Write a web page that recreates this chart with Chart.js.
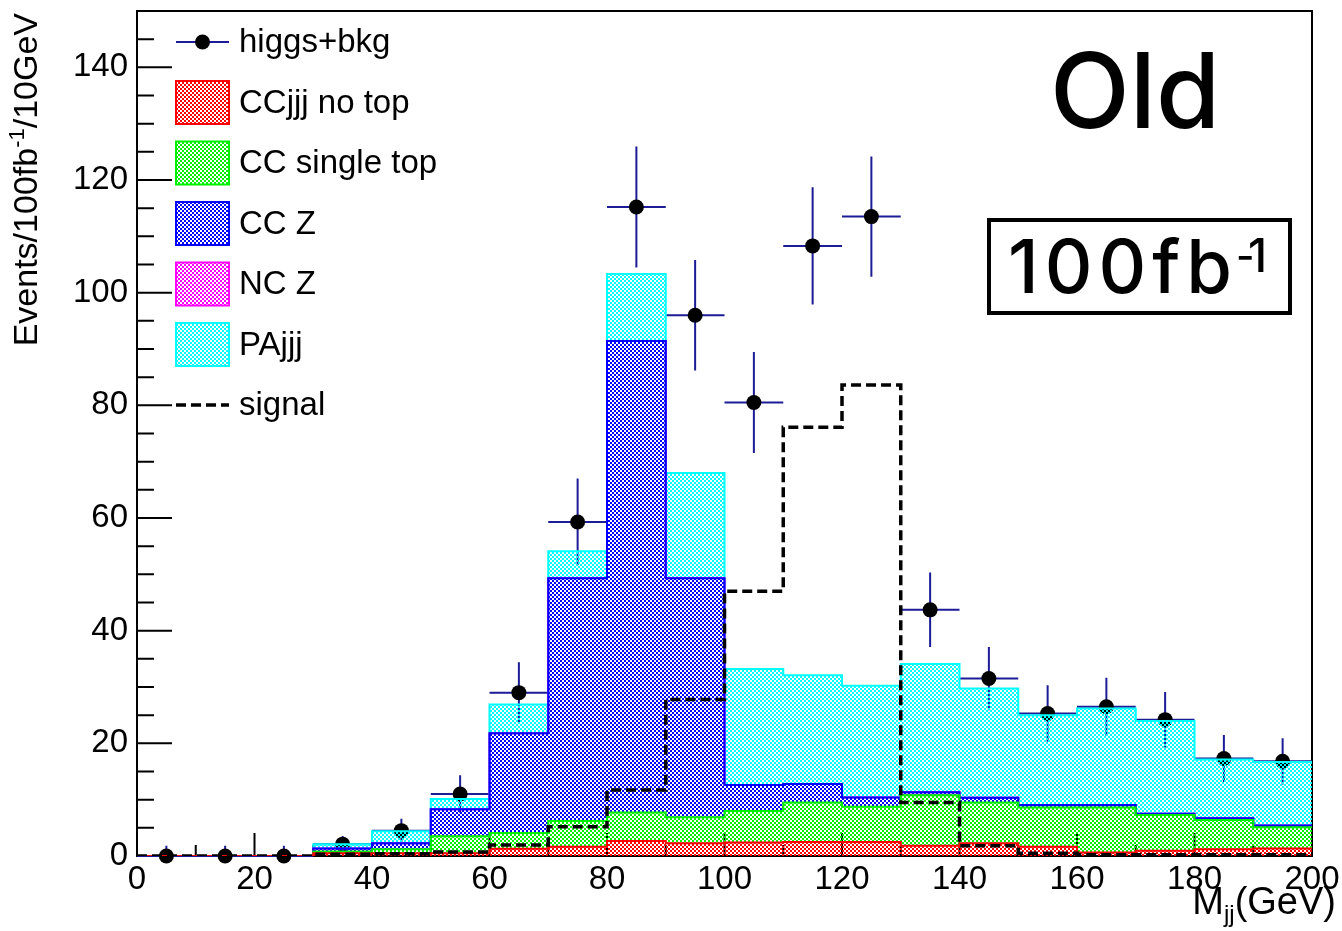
<!DOCTYPE html>
<html>
<head>
<meta charset="utf-8">
<script src="https://cdn.jsdelivr.net/npm/chart.js@4.4.1/dist/chart.umd.min.js"></script>
<style>
  html, body { margin: 0; padding: 0; background: #fff; }
  #wrap { width: 1342px; height: 931px; }
</style>
</head>
<body>
<div id="wrap"><canvas id="mjj" width="1342" height="931"></canvas></div>
<script>
// M_jj in 10 GeV bins from 0 to 200 GeV
const binEdges = [0, 10, 20, 30, 40, 50, 60, 70, 80, 90, 100, 110, 120, 130, 140, 150, 160, 170, 180, 190, 200];
const binCenters = [5, 15, 25, 35, 45, 55, 65, 75, 85, 95, 105, 115, 125, 135, 145, 155, 165, 175, 185, 195];

// background components (events / 100 fb^-1 / 10 GeV), stacked bottom to top
const ccjjjNoTop  = [0, 0, 0, 0.5, 0.5, 0.5, 1.3, 1.65, 2.65, 2.25, 2.4, 2.5, 2.5, 1.8, 2.25, 1.65, 0.6, 0.95, 1.2, 1.35];
const ccSingleTop = [0, 0, 0, 0.3, 0.7, 3.0, 2.8, 4.55, 5.05, 4.65, 5.6, 7.0, 6.25, 9.0, 7.25, 6.95, 8.0, 6.35, 5.2, 3.75];
const ccZ         = [0, 0, 0, 0.55, 1.05, 4.8, 17.7, 43.1, 83.7, 42.4, 4.6, 3.3, 1.65, 0.5, 0.85, 0.45, 0.45, 0.2, 0.3, 0.3];
const ncZ         = [0, 0, 0, 0, 0, 0, 0, 0, 0, 0, 0, 0, 0, 0, 0, 0, 0, 0, 0, 0];
const paJjj       = [0, 0, 0, 0.75, 2.15, 1.8, 5.1, 4.8, 11.9, 18.7, 20.6, 19.3, 19.8, 22.8, 19.4, 15.95, 17.15, 16.45, 10.45, 11.3];

// higgs signal alone and pseudo-data (signal + background)
const signal    = [0, 0, 0, 0.3, 0.4, 0.7, 1.95, 5.2, 11.7, 27.8, 47.0, 76.1, 83.6, 9.5, 1.8, 0.5, 0.2, 0.2, 0.2, 0.2];
const higgsBkg  = [0, 0, 0, 2.1, 4.5, 11.0, 29.0, 59.3, 115.2, 96.0, 80.5, 108.3, 113.5, 43.7, 31.5, 25.3, 26.5, 24.2, 17.3, 16.8];

const FONT = "'Liberation Sans', Arial, Helvetica, sans-serif";
const LABEL_FONT = "Inter, 'Noto Sans', sans-serif";
const NAVY = '#1c1c96';

let canvas = document.getElementById('mjj');
let ctx = canvas.getContext('2d');

// small checker tile, like ROOT's dotted fill style
function hatch(color) {
  let tile = document.createElement('canvas');
  tile.width = 4;
  tile.height = 4;
  let g = tile.getContext('2d');
  g.fillStyle = color;
  g.fillRect(0, 0, 2, 2);
  g.fillRect(2, 2, 2, 2);
  return ctx.createPattern(tile, 'repeat');
}

// histogram contents as step points on the bin edges (last edge repeats last bin)
function steps(values) {
  return binEdges.map((x, i) => ({ x: x, y: values[Math.min(i, values.length - 1)] }));
}

function stackLayer(label, values, color, first) {
  return {
    label: label,
    data: steps(values),
    stack: 'bkg',
    stepped: true,
    borderColor: color,
    borderWidth: 2,
    backgroundColor: hatch(color),
    fill: first ? 'origin' : '-1',
    pointRadius: 0,
    order: 0,
    legendKind: 'box'
  };
}

// error bars (sqrt N), drawn under the stack like ROOT does
const errorBars = {
  id: 'errorBars',
  beforeDatasetsDraw(chart) {
    let { ctx, scales: { x, y } } = chart;
    ctx.save();
    ctx.strokeStyle = NAVY;
    ctx.lineWidth = 2;
    ctx.beginPath();
    for (let i = 0; i < higgsBkg.length; i++) {
      let v = higgsBkg[i];
      let err = v > 0 ? Math.sqrt(v) : 1.84;
      let px = x.getPixelForValue(binCenters[i]);
      let py = y.getPixelForValue(v);
      ctx.moveTo(x.getPixelForValue(binEdges[i]), py);
      ctx.lineTo(x.getPixelForValue(binEdges[i + 1]), py);
      ctx.moveTo(px, y.getPixelForValue(Math.max(v - err, 0)));
      ctx.lineTo(px, y.getPixelForValue(v + err));
    }
    ctx.stroke();
    ctx.restore();
  }
};

// frame and inward ticks
const frameTicks = {
  id: 'frameTicks',
  beforeDatasetsDraw(chart) {
    let { ctx, chartArea: a, scales: { x, y } } = chart;
    ctx.save();
    ctx.strokeStyle = '#000';
    ctx.lineWidth = 2;
    ctx.beginPath();
    for (let v = 0; v < 150; v += 5) {
      let py = y.getPixelForValue(v);
      ctx.moveTo(a.left, py);
      ctx.lineTo(a.left + (v % 20 === 0 ? 35 : 17), py);
    }
    for (let v = 0; v <= 200; v += 10) {
      let px = x.getPixelForValue(v);
      ctx.moveTo(px, a.bottom);
      ctx.lineTo(px, a.bottom - (v % 20 === 0 ? 23 : 11));
    }
    ctx.stroke();
    ctx.strokeRect(a.left, a.top, a.right - a.left, a.bottom - a.top);
    ctx.restore();
  }
};

// draw a run of [text, size, shift] pieces starting at x
function drawPieces(ctx, pieces, x, y) {
  pieces.forEach(p => {
    ctx.font = p[1] + 'px ' + FONT;
    ctx.fillText(p[0], x, y + p[2]);
    x += ctx.measureText(p[0]).width;
  });
}

function piecesWidth(ctx, pieces) {
  let total = 0;
  pieces.forEach(p => { ctx.font = p[1] + 'px ' + FONT; total += ctx.measureText(p[0]).width; });
  return total;
}

// legend, axis titles and the labels in the corner
const decorations = {
  id: 'decorations',
  afterDraw(chart) {
    let ctx = chart.ctx;
    let sets = chart.data.datasets;
    ctx.save();

    // legend
    let rowY = 42, rowStep = 60.5;
    let boxL = 176, boxW = 53, boxH = 43;
    ctx.textBaseline = 'middle';
    ctx.textAlign = 'left';
    ctx.font = '33px ' + FONT;
    let order = [sets.length - 2, 0, 1, 2, 3, 4, sets.length - 1];
    order.forEach((idx, k) => {
      let ds = sets[idx];
      let cy = rowY + k * rowStep;
      if (ds.legendKind === 'data') {
        ctx.strokeStyle = NAVY;
        ctx.lineWidth = 2;
        ctx.beginPath();
        ctx.moveTo(boxL, cy);
        ctx.lineTo(boxL + boxW, cy);
        ctx.stroke();
        ctx.fillStyle = '#000';
        ctx.beginPath();
        ctx.arc(boxL + boxW / 2, cy, 7.5, 0, Math.PI * 2);
        ctx.fill();
      } else if (ds.legendKind === 'box') {
        ctx.fillStyle = ds.backgroundColor;
        ctx.fillRect(boxL, cy - boxH / 2, boxW, boxH);
        ctx.strokeStyle = ds.borderColor;
        ctx.lineWidth = 2;
        ctx.strokeRect(boxL, cy - boxH / 2, boxW, boxH);
      } else {
        ctx.strokeStyle = '#000';
        ctx.lineWidth = 3.5;
        ctx.setLineDash([10, 5]);
        ctx.beginPath();
        ctx.moveTo(boxL, cy);
        ctx.lineTo(boxL + boxW, cy);
        ctx.stroke();
        ctx.setLineDash([]);
      }
      ctx.fillStyle = '#000';
      ctx.fillText(ds.label, 239, cy + 1);
    });

    ctx.textBaseline = 'alphabetic';

    // y title, right-aligned to the top of the axis
    ctx.save();
    ctx.translate(37, 13);
    ctx.rotate(-Math.PI / 2);
    let yParts = [['Events/100fb', 34, 0], ['-1', 22, -13], ['/10GeV', 34, 0]];
    drawPieces(ctx, yParts, -piecesWidth(ctx, yParts), 0);
    ctx.restore();

    // x title M_jj(GeV)
    let xParts = [['M', 38, 0], ['jj', 24, 8], ['(GeV)', 38, 0]];
    drawPieces(ctx, xParts, 1336 - piecesWidth(ctx, xParts), 914);

    // "Old"
    ctx.font = '500 104px ' + LABEL_FONT;
    ctx.fillText('Old', 1050, 128);

    // luminosity box
    ctx.lineWidth = 4;
    ctx.strokeStyle = '#000';
    ctx.strokeRect(989, 220, 301, 93);
    ctx.font = '500 74px ' + LABEL_FONT;
    ctx.letterSpacing = '6px';
    ctx.fillText('100fb', 1008, 293);
    let w = ctx.measureText('100fb').width;
    ctx.letterSpacing = '0px';
    ctx.font = '500 40px ' + LABEL_FONT;
    ctx.fillText('-', 1008 + w - 2, 270);
    ctx.font = '500 46px ' + LABEL_FONT;
    ctx.fillText('1', 1008 + w + 10, 272);

    ctx.restore();
  }
};

let datasets = [
  stackLayer('CCjjj no top', ccjjjNoTop, '#ff0000', true),
  stackLayer('CC single top', ccSingleTop, '#00ee00', false),
  stackLayer('CC Z', ccZ, '#0000ff', false),
  stackLayer('NC Z', ncZ, '#ff00ff', false),
  stackLayer('PAjjj', paJjj, '#00ffff', false),
  {
    type: 'scatter',
    label: 'higgs+bkg',
    data: binCenters.map((x, i) => ({ x: x, y: higgsBkg[i] })),
    stack: 'obs',
    pointRadius: 7.5,
    pointBackgroundColor: '#000',
    pointBorderWidth: 0,
    clip: false,
    order: 1,
    legendKind: 'data'
  },
  {
    label: 'signal',
    data: steps(signal),
    stack: 'sig',
    stepped: true,
    borderColor: '#000',
    borderWidth: 3.5,
    borderDash: [10, 5],
    fill: false,
    pointRadius: 0,
    order: -1,
    legendKind: 'dash'
  }
];

chart = new Chart(ctx, {
  type: 'line',
  data: { datasets: datasets },
  options: {
    responsive: false,
    animation: false,
    events: [],
    layout: { padding: { top: 11, right: 30, left: 0, bottom: 0 } },
    plugins: {
      legend: { display: false },
      tooltip: { enabled: false }
    },
    scales: {
      x: {
        type: 'linear',
        min: 0,
        max: 200,
        offset: false,
        grid: { display: false },
        border: { display: false },
        ticks: {
          stepSize: 20,
          autoSkip: false,
          maxRotation: 0,
          padding: -4,
          color: '#000',
          font: { family: FONT, size: 33 }
        },
        afterFit: s => { s.height = 75; s.paddingLeft = 0; s.paddingRight = 0; }
      },
      y: {
        stacked: true,
        min: 0,
        max: 150,
        grid: { display: false },
        border: { display: false },
        ticks: {
          stepSize: 20,
          padding: 1,
          color: '#000',
          font: { family: FONT, size: 33 },
          callback: v => (v % 20 === 0 ? v : '')
        },
        afterFit: s => { s.width = 137; s.paddingTop = 0; s.paddingBottom = 0; }
      }
    }
  },
  plugins: [frameTicks, errorBars, decorations]
});
</script>
</body>
</html>
